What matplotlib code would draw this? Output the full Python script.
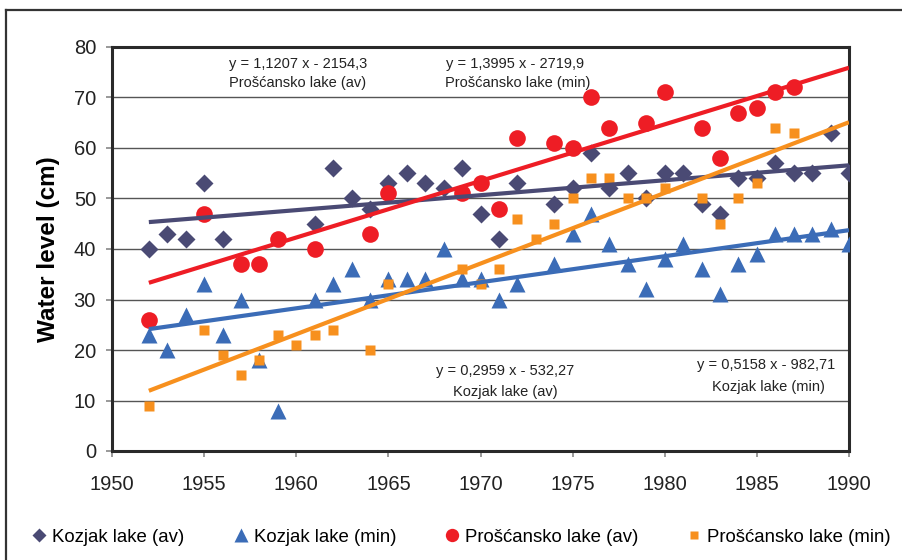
import matplotlib.pyplot as plt
import numpy as np
from matplotlib.lines import Line2D

# Kozjak lake, average water level
kozjak_av_years = [1952, 1953, 1954, 1955, 1956, 1961, 1962, 1963, 1964, 1965, 1966, 1967,
                   1968, 1969, 1970, 1971, 1972, 1974, 1975, 1976, 1977, 1978, 1979, 1980,
                   1981, 1982, 1983, 1984, 1985, 1986, 1987, 1988, 1989, 1990]
kozjak_av = [40, 43, 42, 53, 42, 45, 56, 50, 48, 53, 55, 53,
             52, 56, 47, 42, 53, 49, 52, 59, 52, 55, 50, 55,
             55, 49, 47, 54, 54, 57, 55, 55, 63, 55]

# Kozjak lake, minimum water level
kozjak_min_years = [1952, 1953, 1954, 1955, 1956, 1957, 1958, 1959, 1961, 1962, 1963, 1964,
                    1965, 1966, 1967, 1968, 1969, 1970, 1971, 1972, 1974, 1975, 1976, 1977,
                    1978, 1979, 1980, 1981, 1982, 1983, 1984, 1985, 1986, 1987, 1988, 1989, 1990]
kozjak_min = [23, 20, 27, 33, 23, 30, 18, 8, 30, 33, 36, 30,
              34, 34, 34, 40, 34, 34, 30, 33, 37, 43, 47, 41,
              37, 32, 38, 41, 36, 31, 37, 39, 43, 43, 43, 44, 41]

# Proscansko lake, average water level
prosc_av_years = [1952, 1955, 1957, 1958, 1959, 1961, 1964, 1965, 1969, 1970, 1971, 1972,
                  1974, 1975, 1976, 1977, 1979, 1980, 1982, 1983, 1984, 1985, 1986, 1987]
prosc_av = [26, 47, 37, 37, 42, 40, 43, 51, 51, 53, 48, 62,
            61, 60, 70, 64, 65, 71, 64, 58, 67, 68, 71, 72]

# Proscansko lake, minimum water level
prosc_min_years = [1952, 1955, 1956, 1957, 1958, 1959, 1960, 1961, 1962, 1964, 1965, 1969,
                   1970, 1971, 1972, 1973, 1974, 1975, 1976, 1977, 1978, 1979, 1980, 1982,
                   1983, 1984, 1985, 1986, 1987]
prosc_min = [9, 24, 19, 15, 18, 23, 21, 23, 24, 20, 33, 36,
             33, 36, 46, 42, 45, 50, 54, 54, 50, 50, 52, 50,
             45, 50, 53, 64, 63]

# linear trend coefficients (slope, intercept) as printed on the chart
trend_kozjak_av = (0.2959, -532.27)
trend_kozjak_min = (0.5158, -982.71)
trend_prosc_av = (1.1207, -2154.3)
trend_prosc_min = (1.3995, -2719.9)
trend_span = [1952, 1990]

C_KAV = "#4a4a74"
C_KMIN = "#3b6cb7"
C_PAV = "#ee1d25"
C_PMIN = "#f7901e"

plt.rcParams["font.family"] = ["Liberation Sans", "DejaVu Sans"]

fig = plt.figure(figsize=(9.03, 5.6), dpi=100)
ax = fig.add_axes([112 / 903, 1 - 451 / 560, (849 - 112) / 903, (451 - 47) / 560])

ax.plot(kozjak_av_years, kozjak_av, "D", color=C_KAV, markersize=9.5, mec="none",
        label="Kozjak lake (av)", zorder=3)
ax.plot(kozjak_min_years, kozjak_min, "^", color=C_KMIN, markersize=12, mec="none",
        label="Kozjak lake (min)", zorder=3)
ax.plot(prosc_av_years, prosc_av, "o", color=C_PAV, markersize=12, mec="none",
        label="Prošćansko lake (av)", zorder=3)
ax.plot(prosc_min_years, prosc_min, "s", color=C_PMIN, markersize=7.5, mec="none",
        label="Prošćansko lake (min)", zorder=3)

xs = np.array(trend_span, dtype=float)
for (k, n), col in [(trend_kozjak_av, C_KAV), (trend_kozjak_min, C_KMIN),
                    (trend_prosc_av, C_PAV), (trend_prosc_min, C_PMIN)]:
    ax.plot(xs, k * xs + n, color=col, linewidth=3, solid_capstyle="butt", zorder=4)

ax.set_xlim(1950, 1990)
ax.set_ylim(0, 80)
ax.set_xticks(np.arange(1950, 1991, 5))
ax.set_yticks(np.arange(0, 81, 10))
ax.yaxis.grid(True, color="#555555", linewidth=1)
ax.set_axisbelow(True)
for sp in ax.spines.values():
    sp.set_linewidth(2.2)
    sp.set_color("#2a2a2a")
ax.tick_params(axis="both", labelsize=14.5, colors="#888888", labelcolor="#222222",
               length=4.5, width=1.2)
ax.tick_params(axis="y", pad=7)
ax.tick_params(axis="x", pad=13)
ax.set_ylabel("Water level (cm)", fontsize=17.5, fontweight="bold")
ax.yaxis.set_label_coords(-0.071, 0.5)

def note(x, y, s):
    fig.text(x / 903, 1 - y / 560, s, ha="center", va="center", fontsize=10.5, color="#222222")

note(298, 64, "y = 1,1207 x - 2154,3")
note(298, 83, "Prošćansko lake (av)")
note(515, 64, "y = 1,3995 x - 2719,9")
note(518, 83, "Prošćansko lake (min)")
note(505, 371, "y = 0,2959 x - 532,27")
note(505, 392, "Kozjak lake (av)")
note(766, 365, "y = 0,5158 x - 982,71")
note(768, 387, "Kozjak lake (min)")

fig.legend(loc="center left", bbox_to_anchor=(32 / 903, 1 - 537 / 560), ncol=4,
           frameon=False, fontsize=13.4, handletextpad=0.3, columnspacing=2.6,
           handlelength=0.8, markerscale=0.8, borderpad=0, borderaxespad=0)

# outer frame (left and top edges)
fig.add_artist(Line2D([6 / 903, 6 / 903], [0, 1 - 10 / 560], transform=fig.transFigure,
                      color="#333333", linewidth=1.6))
fig.add_artist(Line2D([6 / 903, 1], [1 - 10 / 560, 1 - 10 / 560], transform=fig.transFigure,
                      color="#333333", linewidth=1.6))

fig.savefig("out.png", dpi=100)
